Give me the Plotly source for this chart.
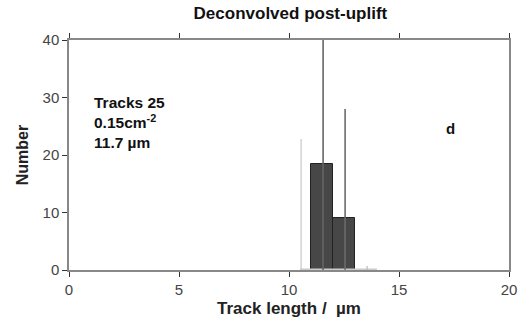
import plotly.graph_objects as go

# Data
bin_centers = [11.5, 12.5]
bin_counts = [18.4, 9.1]
line_x = [10.55, 11.55, 12.55, 13.55]
line_heights = [22.8, 40.0, 28.0, 0.7]
line_colors = ["#c8c8c8", "#777777", "#888888", "#bbbbbb"]
base_range = [10.5, 14.0]

fig = go.Figure()

fig.add_trace(go.Scatter(x=base_range, y=[0.15, 0.15], mode="lines",
                         line=dict(color="#cccccc", width=1.5), showlegend=False, hoverinfo="skip"))

for lx, lh, lc in zip(line_x, line_heights, line_colors):
    fig.add_trace(go.Scatter(x=[lx, lx], y=[0, lh], mode="lines",
                             line=dict(color=lc, width=1.2), showlegend=False, hoverinfo="skip"))

fig.add_trace(go.Bar(x=bin_centers, y=bin_counts, width=1.0,
                     marker=dict(color="#474747", line=dict(color="#222222", width=1)),
                     showlegend=False))

for lx, lh in zip(line_x[1:3], line_heights[1:3]):
    fig.add_trace(go.Scatter(x=[lx, lx], y=[0, lh], mode="lines",
                             line=dict(color="#5a5a5a", width=1), showlegend=False, hoverinfo="skip"))

fig.update_layout(
    width=529, height=327,
    margin=dict(l=69, r=16, t=40, b=57),
    plot_bgcolor="white", paper_bgcolor="white",
    font=dict(family="Liberation Sans, Arial, sans-serif", color="#333333"),
    title=dict(text="<b>Deconvolved post-uplift</b>", x=0.549, xanchor="center",
               y=0.96, yanchor="middle", font=dict(size=17, color="#111111")),
    bargap=0,
    xaxis=dict(range=[0, 20], tickvals=[0, 5, 10, 15, 20], ticks="outside", ticklen=5,
               tickcolor="#333333", showline=True, linecolor="#888888", linewidth=1.5,
               mirror="ticks", showgrid=False, zeroline=False,
               tickfont=dict(size=15, color="#444444"),
               title=dict(text="<b>Track length /&nbsp; µm</b>", font=dict(size=17, color="#222222"), standoff=5)),
    yaxis=dict(range=[0, 40], tickvals=[0, 10, 20, 30, 40], ticks="outside", ticklen=5,
               tickcolor="#333333", showline=True, linecolor="#888888", linewidth=1.5,
               mirror=True, showgrid=False, zeroline=False,
               tickfont=dict(size=15, color="#444444"),
               title=dict(text="<b>Number</b>", font=dict(size=16, color="#222222"), standoff=10)),
)

fig.add_annotation(x=0.053, y=0.775, xref="paper", yref="paper", xanchor="left", yanchor="top",
                   align="left", showarrow=False,
                   text="<b>Tracks 25<br>0.15cm<sup>-2</sup><br>11.7 µm</b>",
                   font=dict(size=15.5, color="#111111"))
fig.add_annotation(x=17.35, y=24.6, xanchor="center", yanchor="middle", showarrow=False,
                   text="<b>d</b>", font=dict(size=15, color="#111111"))

fig.write_html("out.html")
